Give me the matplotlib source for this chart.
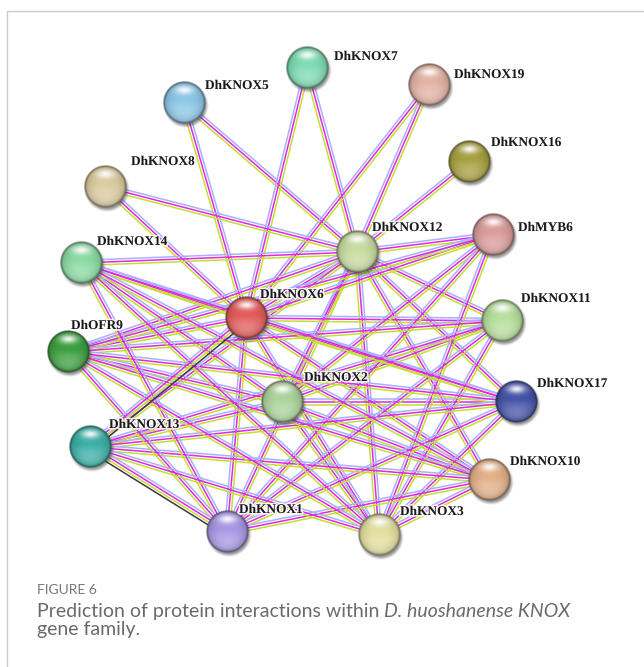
import numpy as np
import matplotlib
matplotlib.use("Agg")
import matplotlib.pyplot as plt
import matplotlib.colors as mcolors
import matplotlib.patheffects as pe

# proteins in the network and their sphere colours
proteins = ["DhKNOX7", "DhKNOX19", "DhKNOX5", "DhKNOX16", "DhKNOX8", "DhKNOX12",
            "DhMYB6", "DhKNOX14", "DhKNOX6", "DhKNOX11", "DhOFR9", "DhKNOX2",
            "DhKNOX17", "DhKNOX13", "DhKNOX10", "DhKNOX1", "DhKNOX3"]
node_colors = ["#7fdcb4", "#e4b4a4", "#8cc8e8", "#a8a040", "#dccca0", "#c8dca0",
               "#dc9c9c", "#8cdca4", "#e45c5c", "#b8e09c", "#3ca040", "#acd49c",
               "#4454a8", "#3cb0a8", "#e4b088", "#a898e4", "#e4e0a0"]

# layout of the network (pixel coords, y downwards)
layout = {
    "DhKNOX7": (307, 68), "DhKNOX19": (429, 85), "DhKNOX5": (184, 103),
    "DhKNOX16": (469, 162), "DhKNOX8": (105, 187), "DhKNOX12": (357, 252),
    "DhMYB6": (493, 235), "DhKNOX14": (81, 263), "DhKNOX6": (246, 318),
    "DhKNOX11": (502, 321), "DhOFR9": (68, 352), "DhKNOX2": (282, 402),
    "DhKNOX17": (516, 402), "DhKNOX13": (90, 447), "DhKNOX10": (489, 480),
    "DhKNOX1": (227, 532), "DhKNOX3": (379, 535),
}
label_pos = {
    "DhKNOX7": (334, 57), "DhKNOX19": (454, 75), "DhKNOX5": (205, 86),
    "DhKNOX16": (491, 143), "DhKNOX8": (131, 162), "DhKNOX12": (372, 228),
    "DhMYB6": (518, 228), "DhKNOX14": (97, 242), "DhKNOX6": (260, 295),
    "DhKNOX11": (521, 299), "DhOFR9": (71, 326), "DhKNOX2": (304, 378),
    "DhKNOX17": (537, 384), "DhKNOX13": (109, 425), "DhKNOX10": (510, 462),
    "DhKNOX1": (239, 510), "DhKNOX3": (400, 512),
}

# predicted interactions
edges = [
    ("DhKNOX5", "DhKNOX12"), ("DhKNOX5", "DhKNOX6"),
    ("DhKNOX7", "DhKNOX12"), ("DhKNOX7", "DhKNOX6"),
    ("DhKNOX19", "DhKNOX12"), ("DhKNOX19", "DhKNOX6"),
    ("DhKNOX16", "DhKNOX12"),
    ("DhKNOX8", "DhKNOX12"), ("DhKNOX8", "DhKNOX6"),
    ("DhKNOX12", "DhKNOX14"), ("DhKNOX12", "DhMYB6"), ("DhKNOX12", "DhKNOX11"),
    ("DhKNOX12", "DhKNOX17"), ("DhKNOX12", "DhKNOX10"), ("DhKNOX12", "DhKNOX3"),
    ("DhKNOX12", "DhKNOX1"), ("DhKNOX12", "DhKNOX2"), ("DhKNOX12", "DhKNOX6"),
    ("DhKNOX12", "DhOFR9"), ("DhKNOX12", "DhKNOX13"),
    ("DhKNOX6", "DhKNOX14"), ("DhKNOX6", "DhOFR9"), ("DhKNOX6", "DhKNOX11"),
    ("DhKNOX6", "DhKNOX17"), ("DhKNOX6", "DhKNOX10"), ("DhKNOX6", "DhKNOX3"),
    ("DhKNOX6", "DhKNOX1"), ("DhKNOX6", "DhMYB6"),
    ("DhKNOX2", "DhKNOX14"), ("DhKNOX2", "DhOFR9"), ("DhKNOX2", "DhKNOX13"),
    ("DhKNOX2", "DhKNOX3"), ("DhKNOX2", "DhKNOX10"), ("DhKNOX2", "DhKNOX17"),
    ("DhKNOX2", "DhKNOX11"), ("DhKNOX2", "DhMYB6"),
    ("DhMYB6", "DhKNOX1"), ("DhMYB6", "DhKNOX3"), ("DhMYB6", "DhOFR9"),
    ("DhKNOX11", "DhOFR9"), ("DhKNOX11", "DhKNOX13"), ("DhKNOX11", "DhKNOX1"),
    ("DhKNOX11", "DhKNOX3"),
    ("DhKNOX17", "DhKNOX14"), ("DhKNOX17", "DhOFR9"), ("DhKNOX17", "DhKNOX1"),
    ("DhKNOX17", "DhKNOX13"), ("DhKNOX17", "DhKNOX3"),
    ("DhKNOX10", "DhKNOX14"), ("DhKNOX10", "DhOFR9"), ("DhKNOX10", "DhKNOX13"),
    ("DhKNOX10", "DhKNOX1"), ("DhKNOX10", "DhKNOX3"),
    ("DhKNOX1", "DhKNOX14"), ("DhKNOX1", "DhOFR9"),
    ("DhKNOX3", "DhKNOX14"), ("DhKNOX3", "DhOFR9"), ("DhKNOX3", "DhKNOX13"),
]
# edges that also carry co-expression evidence
coexpressed = [("DhKNOX13", "DhKNOX6"), ("DhKNOX13", "DhKNOX1")]

W, H = 644, 667
fig = plt.figure(figsize=(W / 100, H / 100), dpi=100)
ax = fig.add_axes([0, 0, 1, 1])
ax.set_xlim(0, W)
ax.set_ylim(H, 0)
ax.axis("off")

# panel frame
ax.plot([7, 7, W], [H, 11, 11], color="#cccccc", lw=1.0, solid_capstyle="butt")

evidence_cols = ["#aab0ff", "#e028e0", "#c4de34"]


def draw_edge(a, b, cols, gap=2.6):
    (x1, y1), (x2, y2) = layout[a], layout[b]
    if (x2, y2) < (x1, y1):
        x1, y1, x2, y2 = x2, y2, x1, y1
    dx, dy = x2 - x1, y2 - y1
    L = np.hypot(dx, dy)
    px, py = -dy / L, dx / L
    offs = (np.arange(len(cols)) - (len(cols) - 1) / 2) * gap
    for c, o in zip(cols, offs):
        ax.plot([x1 + px * o, x2 + px * o], [y1 + py * o, y2 + py * o],
                color=c, lw=1.1, zorder=2, solid_capstyle="butt")


for a, b in edges:
    draw_edge(a, b, evidence_cols)
for a, b in coexpressed:
    draw_edge(a, b, ["#aab0ff", "#e028e0", "#c4de34", "#3a3a3a"])


def sphere(cx, cy, color, r=21):
    s = 1.4
    n = 160
    g = np.linspace(-s, s, n)
    X, Y = np.meshgrid(g, g)
    R = np.hypot(X, Y)
    base = np.array(mcolors.to_rgb(color))
    t = np.clip(R, 0, 1)
    body = base[None, None, :] * (1 - 0.2 * t ** 3)[..., None]
    glow = np.clip((Y + 0.1) / 0.9, 0, 1) * np.clip(1 - t ** 2, 0, 1) * 0.5
    body = body + (1 - body) * glow[..., None]
    hl = np.exp(-((X / 0.42) ** 2 + ((Y + 0.6) / 0.2) ** 2))
    body = body + (1 - body) * (0.9 * hl)[..., None]
    rim = np.clip((R - 0.88) / 0.12, 0, 1)
    body = body * (1 - 0.45 * rim)[..., None]
    a_body = np.clip((1 - R) * r + 0.5, 0, 1)
    Rs = np.hypot(X - 0.07, Y - 0.13)
    a_sh = 0.55 * np.clip(1 - (Rs - 0.92) / 0.16, 0, 1)
    out_a = a_body + a_sh * (1 - a_body)
    shadow = np.array([0.25, 0.25, 0.25])
    rgb = (body * a_body[..., None] + shadow * (a_sh * (1 - a_body))[..., None]) / \
        np.maximum(out_a, 1e-6)[..., None]
    img = np.dstack([np.clip(rgb, 0, 1), out_a])
    ax.imshow(img, extent=[cx - r * s, cx + r * s, cy + r * s, cy - r * s],
              interpolation="bilinear", zorder=3)


for name, col in zip(proteins, node_colors):
    cx, cy = layout[name]
    sphere(cx, cy, col)
    lx, ly = label_pos[name]
    ax.text(lx, ly, name, fontsize=9.6, family="Liberation Serif", weight="bold",
            color="#1a1a1a", ha="left", va="center", zorder=4,
            path_effects=[pe.withStroke(linewidth=2.2, foreground=(1, 1, 1, 0.85))])

ax.set_xlim(0, W)
ax.set_ylim(H, 0)
ax.set_aspect("auto")

# caption
ax.text(37, 594, "FIGURE 6", fontsize=10, family="Lato", color="#777777",
        ha="left", va="baseline")
renderer = fig.canvas.get_renderer()
inv = ax.transData.inverted()
x = 37
for txt, style in [("Prediction of protein interactions within ", "normal"),
                   ("D. huoshanense KNOX", "italic")]:
    t = ax.text(x, 617, txt, fontsize=14, family="Lato", style=style,
                color="#6a6a6a", ha="left", va="baseline")
    bb = t.get_window_extent(renderer)
    x = inv.transform((bb.x1, bb.y0))[0]
ax.text(37, 635, "gene family.", fontsize=14, family="Lato",
        color="#6a6a6a", ha="left", va="baseline")

fig.savefig("out.png", dpi=100)
